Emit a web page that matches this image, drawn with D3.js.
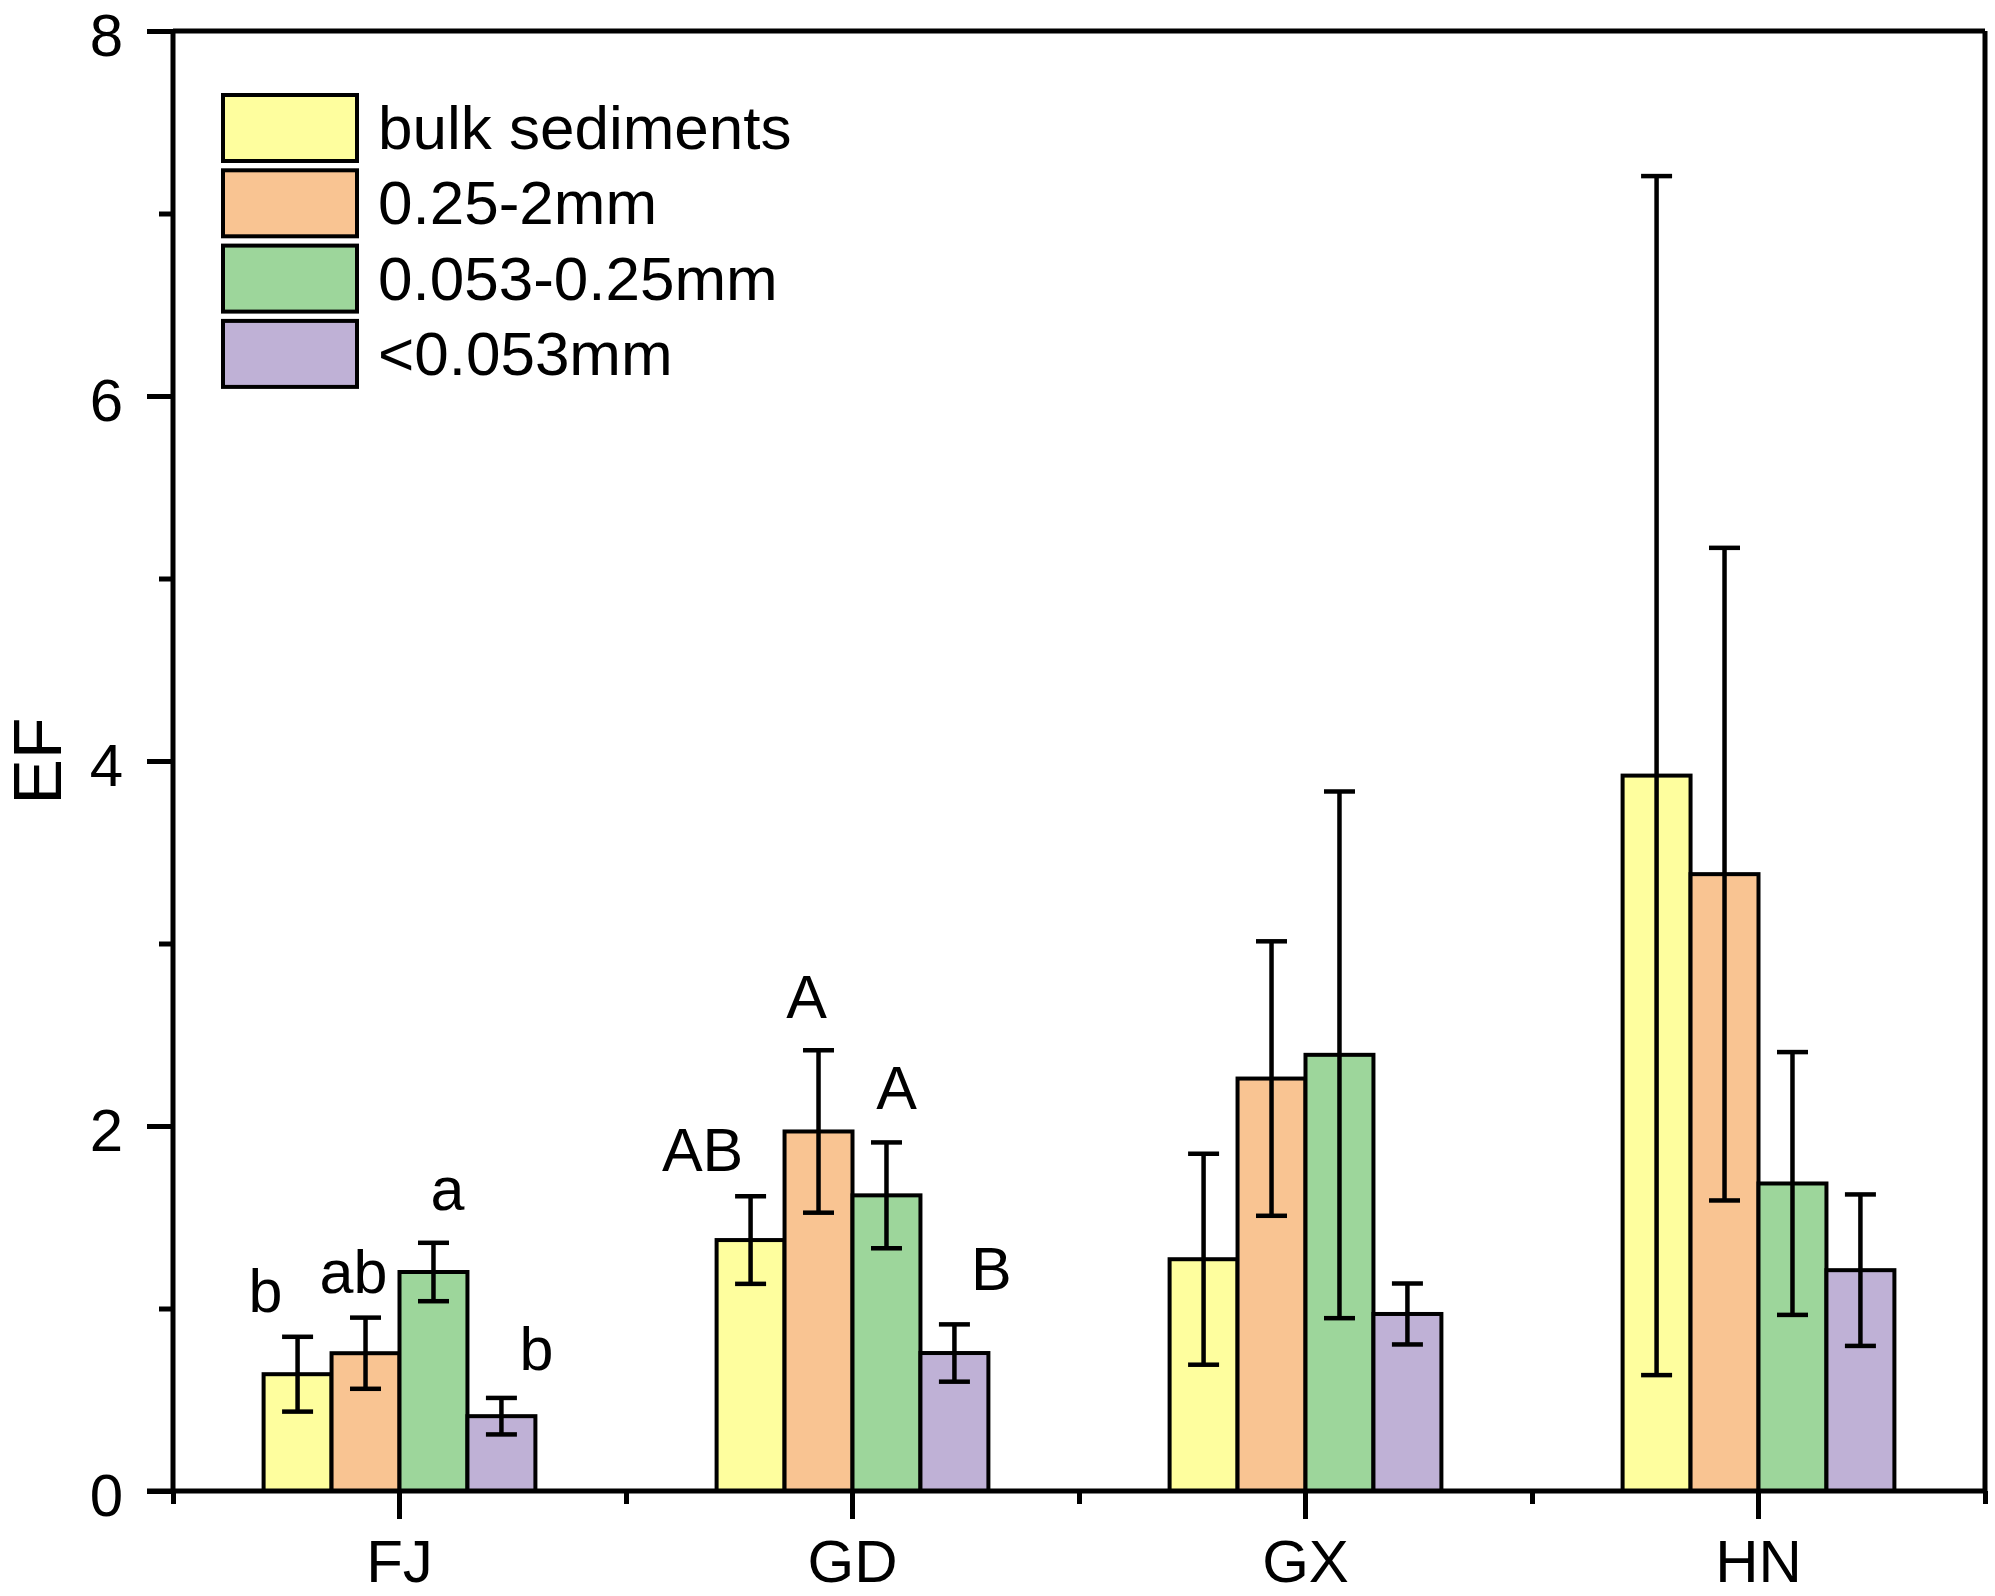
<!DOCTYPE html>
<html>
<head>
<meta charset="utf-8">
<script src="https://cdn.jsdelivr.net/npm/d3@7"></script>
<style>
  html, body { margin: 0; padding: 0; background: #fff; }
  svg { display: block; }
  text { font-family: "Liberation Sans", Arial, sans-serif; fill: #000; }
</style>
</head>
<body>
<svg id="chart" width="1995" height="1596"></svg>
<script>
// ---------------- data ----------------
const categories = ["FJ", "GD", "GX", "HN"];
const seriesNames = ["bulk sediments", "0.25-2mm", "0.053-0.25mm", "<0.053mm"];
const seriesColors = ["#FEFE9E", "#F9C492", "#9DD69B", "#BFB1D6"];

// mean EF per category, one array per series
const bulkMean   = [0.64, 1.375, 1.27, 3.92];
const coarseMean = [0.755, 1.97, 2.26, 3.38];
const fineMean   = [1.20, 1.62, 2.39, 1.685];
const clayMean   = [0.41, 0.756, 0.97, 1.21];

// standard deviations (error bars)
const bulkSD   = [0.205, 0.24, 0.578, 3.285];
const coarseSD = [0.195, 0.445, 0.752, 1.788];
const fineSD   = [0.16, 0.29, 1.443, 0.72];
const claySD   = [0.10, 0.157, 0.167, 0.415];

// significance letters (category, series index, letter)
const sigCategory = ["FJ", "FJ", "FJ", "FJ", "GD", "GD", "GD", "GD"];
const sigSeries   = [0, 1, 2, 3, 0, 1, 2, 3];
const sigLetters  = ["b", "ab", "a", "b", "AB", "A", "A", "B"];

const yTicksMajor = [0, 2, 4, 6, 8];
const yTicksMinor = [1, 3, 5, 7];
const yLabel = "EF";

(function () {
// ---------------- layout ----------------
const W = 1995, H = 1596;
const pL = 173, pR = 1985, pT = 31, pB = 1491;
const FONT = 60;
// horizontal nudges (px) of the letters from their bar centre, and gap above error cap
const sigDx = [-32, -12, 14, 35, -48, -12, 10, 37];
const sigGap = [25, 25, 33, 28, 25, 32, 33, 34];

const means = [bulkMean, coarseMean, fineMean, clayMean];
const sds = [bulkSD, coarseSD, fineSD, claySD];

const svg = d3.select("#chart");
svg.append("rect").attr("width", W).attr("height", H).attr("fill", "#fff");

const y = d3.scaleLinear().domain([0, 8]).range([pB, pT]);
const x0 = d3.scaleBand().domain(categories).range([pL, pR]).padding(0);
const groupW = x0.bandwidth() * 0.6;
const x1 = d3.scaleBand().domain(d3.range(seriesNames.length)).range([0, groupW]).padding(0);

const barX = (ci, si) => x0(categories[ci]) + (x0.bandwidth() - groupW) / 2 + x1(si);
const barCx = (ci, si) => barX(ci, si) + x1.bandwidth() / 2;

const data = [];
categories.forEach((c, ci) => {
  seriesNames.forEach((s, si) => {
    data.push({ ci, si, v: means[si][ci], sd: sds[si][ci] });
  });
});

// bars
const gBars = svg.append("g");
gBars.selectAll("rect").data(data).join("rect")
  .attr("x", d => barX(d.ci, d.si))
  .attr("y", d => y(d.v))
  .attr("width", x1.bandwidth())
  .attr("height", d => y(0) - y(d.v))
  .attr("fill", d => seriesColors[d.si])
  .attr("stroke", "#000")
  .attr("stroke-width", 4);

// error bars
const capW = 31;
const gErr = svg.append("g").attr("stroke", "#000").attr("stroke-width", 4.5);
data.forEach(d => {
  const cx = barCx(d.ci, d.si);
  const hi = y(d.v + d.sd), lo = y(d.v - d.sd);
  gErr.append("line").attr("x1", cx).attr("x2", cx).attr("y1", hi).attr("y2", lo);
  gErr.append("line").attr("x1", cx - capW / 2).attr("x2", cx + capW / 2).attr("y1", hi).attr("y2", hi);
  gErr.append("line").attr("x1", cx - capW / 2).attr("x2", cx + capW / 2).attr("y1", lo).attr("y2", lo);
});

// significance letters
const gSig = svg.append("g");
sigLetters.forEach((t, i) => {
  const ci = categories.indexOf(sigCategory[i]);
  const si = sigSeries[i];
  const v = means[si][ci], sd = sds[si][ci];
  gSig.append("text")
    .attr("x", barCx(ci, si) + sigDx[i])
    .attr("y", y(v + sd) - sigGap[i])
    .attr("text-anchor", "middle")
    .attr("font-size", 61)
    .text(t);
});

// frame (top & right)
svg.append("line").attr("x1", pL).attr("x2", pR).attr("y1", pT).attr("y2", pT)
  .attr("stroke", "#000").attr("stroke-width", 5);
svg.append("line").attr("x1", pR).attr("x2", pR).attr("y1", pT).attr("y2", pB)
  .attr("stroke", "#000").attr("stroke-width", 5);

// y axis
const yAxis = d3.axisLeft(y).tickValues(yTicksMajor).tickSize(26).tickPadding(24).tickSizeOuter(0)
  .tickFormat(d3.format("d"));
const gy = svg.append("g").attr("transform", `translate(${pL},0)`).call(yAxis);
const yMinor = d3.axisLeft(y).tickValues(yTicksMinor).tickSize(14).tickSizeOuter(0).tickFormat("");
const gym = svg.append("g").attr("transform", `translate(${pL},0)`).call(yMinor);

// x axis
const xAxis = d3.axisBottom(x0).tickSize(28).tickPadding(20).tickSizeOuter(0);
const gx = svg.append("g").attr("transform", `translate(0,${pB})`).call(xAxis);
const xMinorScale = d3.scaleLinear().domain([0, categories.length]).range([pL, pR]);
const xMinor = d3.axisBottom(xMinorScale).tickValues(d3.range(categories.length + 1))
  .tickSize(13).tickSizeOuter(0).tickFormat("");
const gxm = svg.append("g").attr("transform", `translate(0,${pB})`).call(xMinor);

[gy, gym, gx, gxm].forEach(g => {
  g.select(".domain").attr("stroke", "#000").attr("stroke-width", 5);
  g.selectAll(".tick line").attr("stroke", "#000").attr("stroke-width", 5);
  g.selectAll(".tick text").attr("font-size", FONT)
    .attr("font-family", '"Liberation Sans", Arial, sans-serif').attr("fill", "#000");
});
gy.selectAll(".tick text").attr("dy", "0.4em");
gx.select(".domain").attr("d", `M${pL - 26},0H${pR}`);
gxm.select(".domain").remove();
gym.select(".domain").remove();
gy.select(".domain").attr("d", `M0,${pB}V${pT}`);

// y label
svg.append("text")
  .attr("transform", `translate(61,${y(4)}) rotate(-90)`)
  .attr("text-anchor", "middle")
  .attr("font-size", 68)
  .text(yLabel);

// legend
const lg = svg.append("g");
const lgX = 223, lgY = 95, lgW = 134, lgH = 66, lgStep = 75.3;
seriesNames.forEach((s, i) => {
  lg.append("rect")
    .attr("x", lgX).attr("y", lgY + i * lgStep)
    .attr("width", lgW).attr("height", lgH)
    .attr("fill", seriesColors[i]).attr("stroke", "#000").attr("stroke-width", 4);
  lg.append("text")
    .attr("x", 378).attr("y", lgY + i * lgStep + lgH / 2 + 21)
    .attr("font-size", 62)
    .text(s);
});
})();
</script>
</body>
</html>
